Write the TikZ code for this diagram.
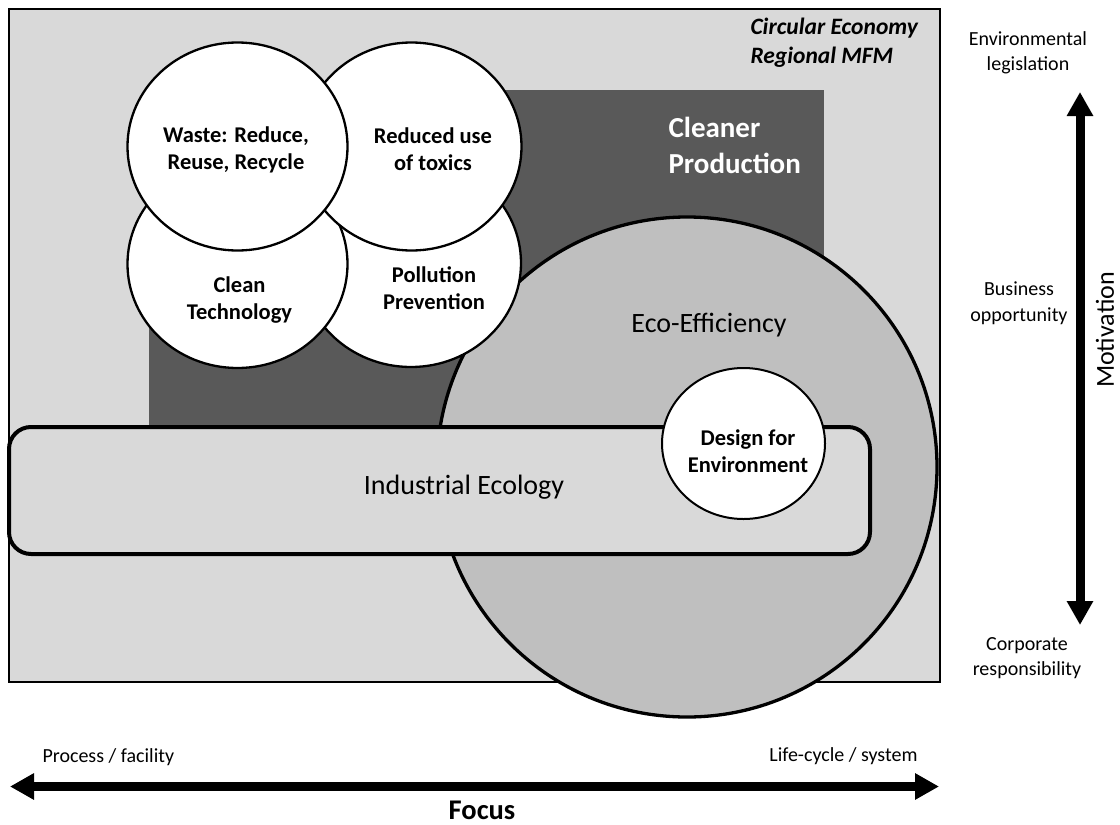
\documentclass[tikz,border=0pt]{standalone}
\usepackage{fontspec}
\setmainfont{Carlito}
\usetikzlibrary{shapes.geometric,arrows.meta}
\begin{document}
\begin{tikzpicture}[x=1pt,y=-1pt,
    bubble/.style={ellipse,draw,fill=white,line width=2.3pt,inner sep=0pt,
      minimum width=220pt,minimum height=208pt},
    bubtext/.style={align=center,font=\fontsize{22.5}{27}\selectfont\bfseries},
    side/.style={align=center,font=\fontsize{20}{25.5}\selectfont},
    big/.style={font=\fontsize{28}{34}\selectfont},
    axis/.style={line width=9pt,{Triangle[width=25pt,length=24pt]}-{Triangle[width=25pt,length=24pt]}}]
  \useasboundingbox (0,0) rectangle (1120,825);
  \draw[fill=black!15,line width=2pt] (9,9) rectangle (940,682);
  \fill[black!65] (149,90) rectangle (824,440);
  \node[anchor=west,align=left,font=\fontsize{23.5}{29}\selectfont\bfseries\itshape]
    (ce) at (747,42.5) {Circular Economy\\Regional MFM};
  \node[anchor=west,align=left,text=white,font=\fontsize{29}{36}\selectfont\bfseries]
    (cp) at (665,145) {Cleaner\\Production};
  \node[circle,draw,fill=black!25,line width=3.3pt,inner sep=0pt,minimum size=500pt]
    (eco) at (687,467) {};
  \node[big] (ecot) at (709,325) {Eco-Efficiency};
  \node[bubble] (pollution) at (411,263) {};
  \node[bubble] (clean) at (237.5,264) {};
  \node[bubble] (reduced) at (411.5,146.5) {};
  \node[bubble] (waste) at (237.5,146.5) {};
  \node[bubtext] (wastet) at (236,150) {Waste: Reduce,\\Reuse, Recycle};
  \node[bubtext] (reducedt) at (433,149) {Reduced use\\of toxics};
  \node[bubtext] (cleant) at (239.5,300) {Clean\\Technology};
  \node[bubtext] (pollutiont) at (434,288) {Pollution\\Prevention};
  \draw[fill=black!15,line width=4pt,rounded corners=22pt] (9,427) rectangle (870,554);
  \node[big] (ie) at (464,487) {Industrial Ecology};
  \node[bubble,line width=2pt,minimum width=163pt,minimum height=151pt]
    (dfe) at (743.5,443.5) {};
  \node[bubtext] (dfet) at (748,451) {Design for\\Environment};
  \coordinate (mtop) at (1080,92);
  \coordinate (mbot) at (1080,625);
  \draw[axis] (mtop) -- (mbot);
  \node[side] (env) at (1028,53) {Environmental\\legislation};
  \node[side] (bus) at (1019,303) {Business\\opportunity};
  \node[side] (corp) at (1027,658) {Corporate\\responsibility};
  \node[rotate=90,font=\fontsize{26}{30}\selectfont] (mot) at (1105,330) {Motivation};
  \coordinate (fleft) at (10,786.5);
  \coordinate (fright) at (939,786.5);
  \draw[axis] (fleft) -- (fright);
  \node[side,anchor=west] (proc) at (39,757) {Process / facility};
  \node[side,anchor=east] (life) at (921,756) {Life-cycle / system};
  \node[anchor=base,inner sep=0pt,font=\fontsize{28.5}{34}\selectfont\bfseries]
    (focus) at (482,819) {Focus};
\end{tikzpicture}
\end{document}
